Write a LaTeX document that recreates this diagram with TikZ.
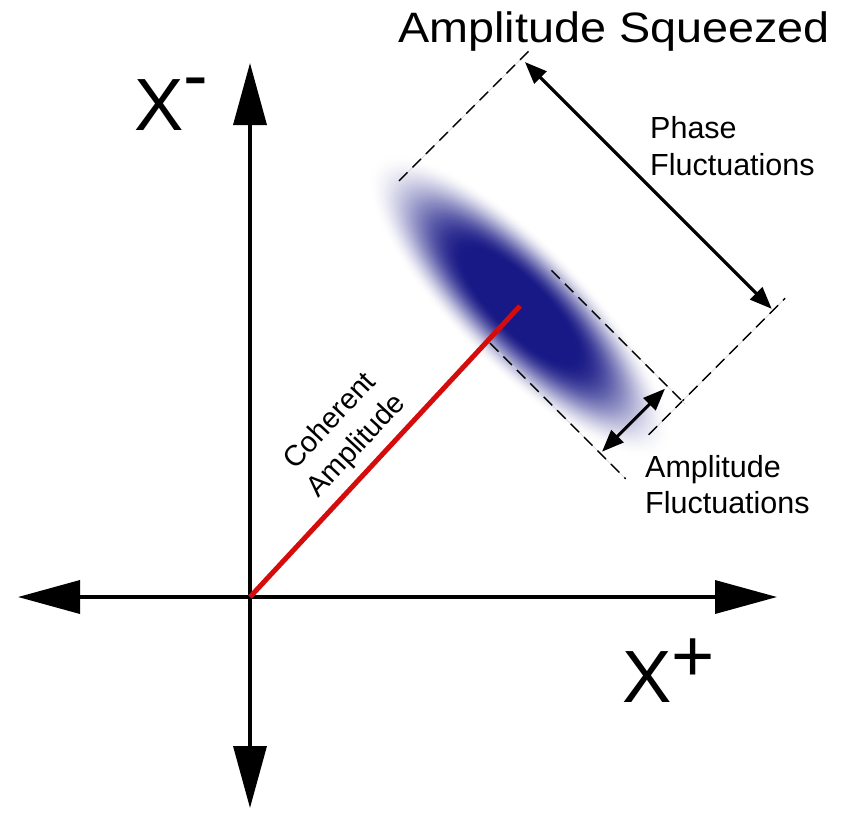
\documentclass[tikz,border=0pt]{standalone}
\usepackage{fontspec}
\setmainfont{Liberation Sans}
\usetikzlibrary{arrows.meta}
\definecolor{navy}{RGB}{24,24,134}
\definecolor{redline}{RGB}{212,12,12}
\begin{document}
\begin{tikzpicture}[x=1pt,y=-1pt,
  axis/.style={line width=3.6pt, {Triangle[length=62pt,width=33pt]}-{Triangle[length=62pt,width=33pt]}},
  guide/.style={line width=1.4pt, dash pattern=on 12pt off 7pt},
  faint/.style={line width=0.5pt, black!18},
  dimarrow/.style={line width=3.1pt, {Triangle[length=22pt,width=17pt]}-{Triangle[length=22pt,width=17pt]}},
  lbl/.style={inner sep=0pt, anchor=base west, font=\fontsize{30.5}{37}\selectfont}]
\useasboundingbox (0,0) rectangle (844,823);

% squeezed state, frame: s along down-right, t along up-right
\begin{scope}[shift={(520,306)}, x={(0.7071pt,-0.7071pt)}, y={(0.7071pt,0.7071pt)}]
  \foreach \i in {0,...,70}{
    \pgfmathsetmacro\xx{\i/70}
    \pgfmathsetmacro\ff{100*(3*\xx*\xx-2*\xx*\xx*\xx)}
    \pgfmathsetmacro\aa{206-134*\xx}
    \pgfmathsetmacro\bb{64-41*\xx}
    \fill[navy!\ff] (0,0) ellipse [x radius=\aa, y radius=\bb];
  }
  \coordinate (C) at (0,0);
  \coordinate (pa1) at (-174,3);   \coordinate (pa2) at (-174,186);
  \coordinate (pb1) at (182,0);    \coordinate (pb2) at (182,193);
  \coordinate (na1) at (-3,47.5);  \coordinate (na2) at (186,47.5);
  \coordinate (nb1) at (5,-47.5);  \coordinate (nb2) at (197,-47.5);
  \coordinate (ph1) at (-169,176); \coordinate (ph2) at (180,176);
  \coordinate (am1) at (161,-45);  \coordinate (am2) at (161,44);
\end{scope}

\foreach \p/\q in {pa1/pa2,pb1/pb2,na1/na2,nb1/nb2}{
  \draw[faint] (\p) -- (\q);
  \draw[guide] (\p) -- (\q);
}
\draw[dimarrow] (ph1) -- (ph2);
\draw[dimarrow] (am1) -- (am2);

% axes
\coordinate (O) at (250,597);
\coordinate (L) at (18,597);
\coordinate (R) at (777,597);
\coordinate (T) at (250,63);
\coordinate (B) at (250,808);
\draw[axis] (L) -- (R);
\draw[axis] (T) -- (B);
\draw[redline, line width=5pt] (O) -- (C);

% labels
\node[inner sep=0pt, anchor=base west, font=\fontsize{42.5}{50}\selectfont] (title) at (398,42)
  {\scalebox{1.1}[1]{Amplitude Squeezed}};
\node[lbl] (ph) at (650,138) {Phase};
\node[lbl] (fl) at (650,175) {Fluctuations};
\node[lbl] (am) at (645,477) {Amplitude};
\node[lbl] (fl2) at (645,513) {Fluctuations};
\node[inner sep=0pt, anchor=base west, font=\fontsize{74}{74}\selectfont] (xm) at (134,130)
  {X\raisebox{29.6pt}{-}};
\node[inner sep=0pt, anchor=base west, font=\fontsize{74}{74}\selectfont] (xp) at (622,702)
  {X\raisebox{20.4pt}{+}};
\node[rotate=47, align=center, inner sep=0pt, font=\fontsize{29}{36}\selectfont] (coh) at (344,434)
  {Coherent\\Amplitude};
\end{tikzpicture}
\end{document}
